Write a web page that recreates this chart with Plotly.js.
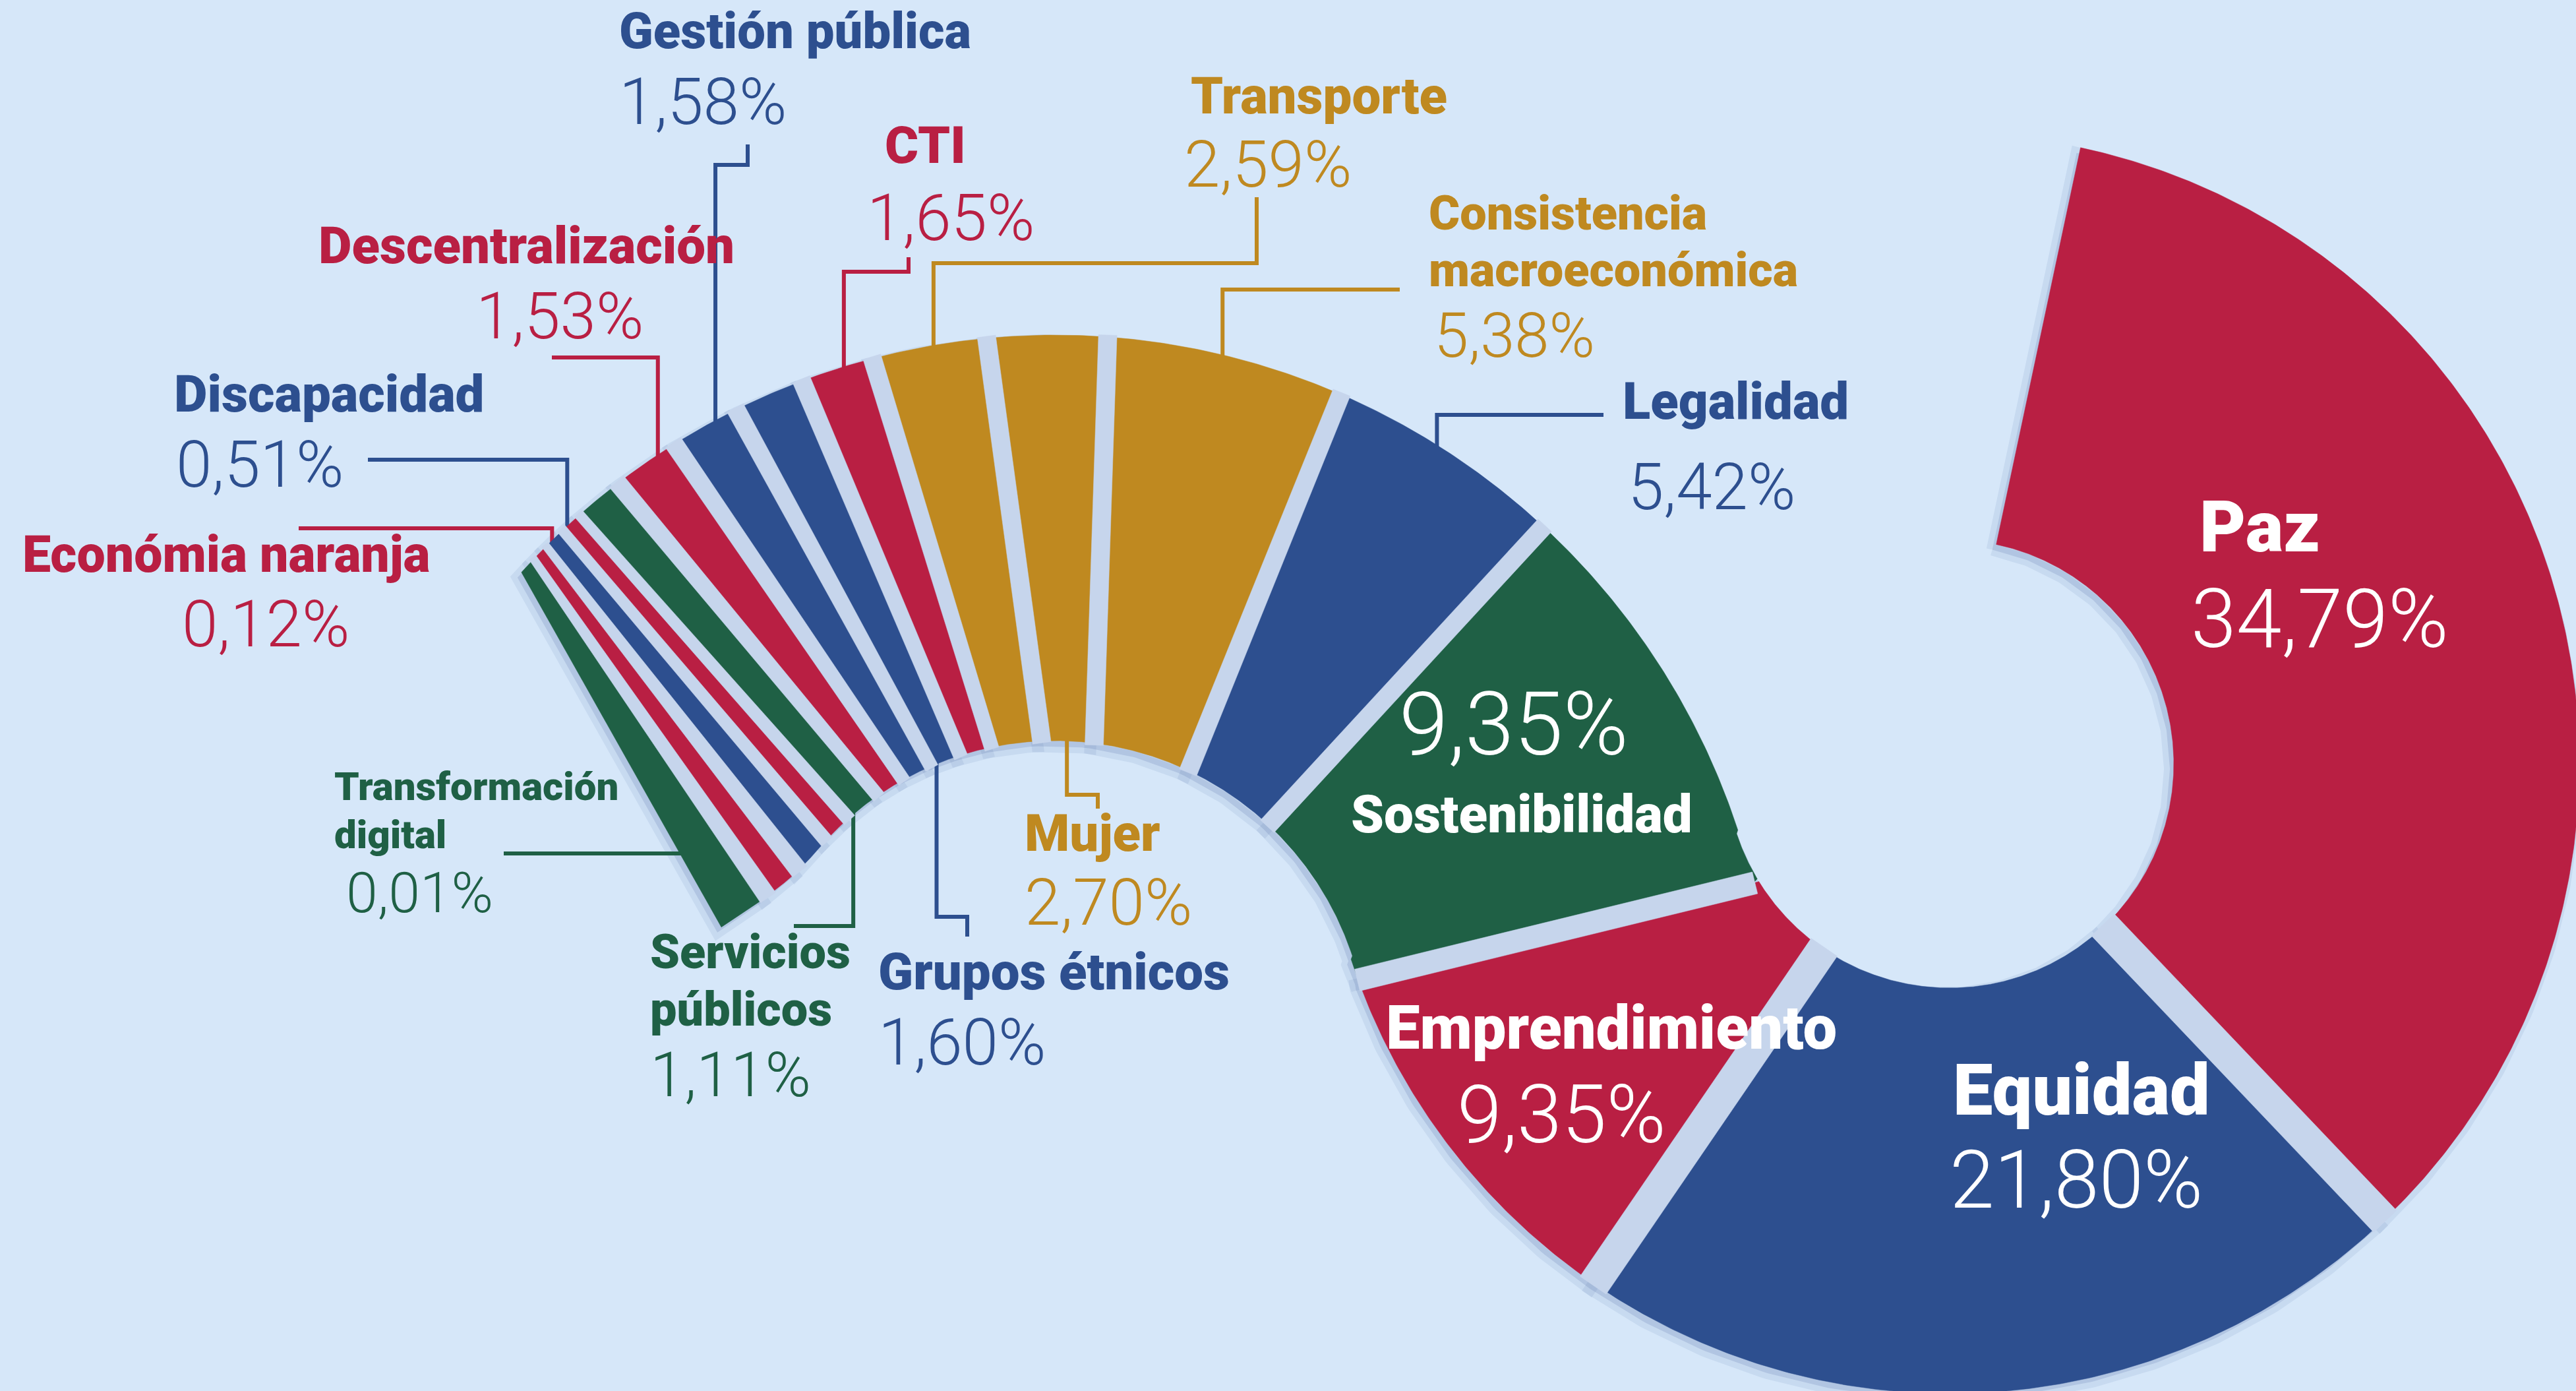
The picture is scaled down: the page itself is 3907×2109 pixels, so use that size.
<!DOCTYPE html>
<html lang="es">
<head>
<meta charset="utf-8">
<title>Distribución por pactos</title>
<script src="https://cdn.plot.ly/plotly-3.0.1.min.js"></script>
<style>
html,body{margin:0;padding:0;background:#D6E7F9;overflow:hidden;}
#chart{width:3907px;height:2109px;}
</style>
</head>
<body>
<div id="chart"></div>
<script>
// ---------------- DATA ----------------
const categories = ["Paz","Equidad","Emprendimiento","Sostenibilidad","Legalidad",
  "Consistencia macroeconómica","Mujer","Transporte","CTI","Grupos étnicos",
  "Gestión pública","Descentralización","Servicios públicos","","Discapacidad",
  "Económia naranja","Transformación digital"];
const values = [34.79,21.80,9.35,9.35,5.42,5.38,2.70,2.59,1.65,1.60,1.58,1.53,1.11,0.51,0.51,0.12,0.01];
const colourGroup = ["rojo","azul","rojo","verde","azul","oro","oro","oro","rojo","azul",
  "azul","rojo","verde","rojo","azul","rojo","verde"];

// ---------------- STYLE / LAYOUT ----------------
const BG = "#D6E7F9";
const palette = {rojo:"#B91F43", azul:"#2D4F8F", oro:"#BF8920", verde:"#1F6045"};
const GAP_COLOR = "#C6D5EC";
const W = 3907, H = 2109;
const MIN_SHARE = 0.4;          // smallest share that is still drawn visibly
const NAME_FONT = "Roboto, 'Open Sans', sans-serif";
const PCT_FONT = "Roboto, 'Open Sans', sans-serif";

// two tangent rings that form the "S" ribbon
const A = {cx:2957, cy:1158, rIn:340, rOut:955};   // big ring (Paz, Equidad ...)
const B = {cx:1600, cy:1598, rIn:475, rOut:1090};  // tail ring
const PHI0 = 12;                                    // start angle of the first slice

const deg = Math.PI/180;
function u(a){ return [Math.sin(a*deg), -Math.cos(a*deg)]; }
function angOf(x,y){ let a = Math.atan2(x,-y)/deg; return (a+360)%360; }
const phiT = angOf(B.cx-A.cx, B.cy-A.cy);   // tangent direction seen from A
const betaT = phiT - 180;                   // same point seen from B
const psiT = phiT - PHI0;                   // sweep where ribbon passes from A to B

function skew(b){ return 3*Math.min(1,Math.max(0,(45-b)/35)) - 0.246*Math.pow(Math.max(0,-38-b),2); }
function rInB(bq){ return B.rIn + 0.18*Math.pow(Math.max(0,-50-bq),2); }
function betaOf(psi){ return betaT - (psi - psiT); }
function sideP(psi){
  if (psi <= psiT){ const d=u(PHI0+psi); return [A.cx+A.rIn*d[0], A.cy+A.rIn*d[1]]; }
  const d=u(betaOf(psi)); return [B.cx+B.rOut*d[0], B.cy+B.rOut*d[1]];
}
function sideQ(psi){
  if (psi <= psiT){ const d=u(PHI0+psi); return [A.cx+A.rOut*d[0], A.cy+A.rOut*d[1]]; }
  const b=betaOf(psi), bq=b+skew(b), r=rInB(bq), d=u(bq);
  return [B.cx+r*d[0], B.cy+r*d[1]];
}
function makeCut(psi){
  if (psi >= psiT-8 && psi < psiT){
    const b = betaT + (psiT-psi), d = u(b);
    const pP=[B.cx+B.rOut*d[0], B.cy+B.rOut*d[1]];
    const pQ=[B.cx+B.rIn*d[0], B.cy+B.rIn*d[1]];
    return {pP, pQ, psiP: angOf(pP[0]-A.cx,pP[1]-A.cy)-PHI0, psiQ: angOf(pQ[0]-A.cx,pQ[1]-A.cy)-PHI0, zone:"T"};
  }
  return {pP:sideP(psi), pQ:sideQ(psi), psiP:psi, psiQ:psi, zone: psi<psiT ? "A" : "B"};
}
function sampleBetween(fn,a,b){
  const pts=[]; const n=Math.max(1,Math.ceil(Math.abs(b-a)/0.4));
  for(let j=1;j<n;j++) pts.push(fn(a+(b-a)*j/n));
  return pts;
}

// ---- scale: share -> sweep angle ----
const shown = values.map(v => Math.max(v, MIN_SHARE));
const total = shown.reduce((s,v)=>s+v,0);
const degPerUnit = 360/total;
const psiB = [0];
shown.forEach((v,i)=>psiB.push(psiB[i]+v*degPerUnit));
const cuts = psiB.map(makeCut);

// ---- slice polygons ----
const slicePolys = values.map((v,i)=>{
  const c0=cuts[i], c1=cuts[i+1];
  return [c0.pP, ...sampleBetween(sideP,c0.psiP,c1.psiP), c1.pP,
          c1.pQ, ...sampleBetween(sideQ,c1.psiQ,c0.psiQ), c0.pQ, c0.pP];
});

// ---- separators (gaps) ----
function dist(a,b){ return Math.hypot(a[0]-b[0],a[1]-b[1]); }
const sepPolys=[];
for(let k=1;k<cuts.length-1;k++){
  const c=cuts[k], base = c.zone==="A"?48:(c.zone==="T"?34:28);
  const gP=Math.min(base,0.45*Math.min(dist(c.pP,cuts[k-1].pP),dist(c.pP,cuts[k+1].pP)));
  const gQ=Math.min(base,0.45*Math.min(dist(c.pQ,cuts[k-1].pQ),dist(c.pQ,cuts[k+1].pQ)));
  const L=dist(c.pP,c.pQ), d=[(c.pQ[0]-c.pP[0])/L,(c.pQ[1]-c.pP[1])/L], n=[-d[1],d[0]], e=3;
  const a=[c.pP[0]-e*d[0], c.pP[1]-e*d[1]], b=[c.pQ[0]+e*d[0], c.pQ[1]+e*d[1]];
  sepPolys.push([[a[0]+gP/2*n[0],a[1]+gP/2*n[1]],[b[0]+gQ/2*n[0],b[1]+gQ/2*n[1]],
                 [b[0]-gQ/2*n[0],b[1]-gQ/2*n[1]],[a[0]-gP/2*n[0],a[1]-gP/2*n[1]],
                 [a[0]+gP/2*n[0],a[1]+gP/2*n[1]]]);
}

// ---- label layout (text baselines, px) ----
const labelLayout = [
  {i:0, inside:true, nx:3334, ny:[836], ns:108, px:3321, py:981, ps:124},
  {i:1, inside:true, nx:2960, ny:[1690], ns:108, px:2955, py:1831, ps:122},
  {i:2, inside:true, nx:2100, ny:[1590], ns:92, px:2368, py:1732, ps:122, pxa:"center"},
  {i:3, inside:true, nx:2308, ny:[1262], ns:80, px:2296, py:1144, ps:134, xa:"center", pxa:"center"},
  {i:4, nx:2459, ny:[635], ns:78, px:2467, py:772, ps:98},
  {i:5, nx:2165, ny:[348,434], ns:72, px:2173, py:541, ps:94},
  {i:6, nx:1552, ny:[1290], ns:78, px:1552, py:1402, ps:98},
  {i:7, nx:1804, ny:[172], ns:78, px:1794, py:283, ps:98},
  {i:8, nx:1340, ny:[247], ns:78, px:1313, py:364, ps:98},
  {i:9, nx:1330, ny:[1500], ns:78, px:1330, py:1614, ps:98},
  {i:10, nx:937, ny:[73], ns:76, px:937, py:188, ps:98},
  {i:11, nx:481, ny:[399], ns:78, px:720, py:513, ps:98},
  {i:12, nx:984, ny:[1468,1555], ns:72, px:984, py:1662, ps:94},
  {i:14, nx:262, ny:[624], ns:78, px:265, py:738, ps:98},
  {i:15, nx:32, ny:[867], ns:77, px:274, py:980, ps:98},
  {i:16, nx:505, ny:[1213,1286], ns:60, px:523, py:1383, ps:86}
];
// leader lines: label-side points are layout, the bar end is computed from the slice
const leaderLayout = [
  {i:10, pts:[[1134,219],[1134,250]], end:"P"},
  {i:8,  pts:[[1378,390],[1378,412]], end:"P"},
  {i:7,  pts:[[1906,299],[1906,399]], end:"P"},
  {i:5,  pts:[[2123,439]], end:"P"},
  {i:4,  pts:[[2432,629]], end:"P"},
  {i:11, pts:[[837,542]], end:"P"},
  {i:14, pts:[[558,697]], end:"P"},
  {i:15, pts:[[453,801]], end:"P"},
  {i:16, pts:[[764,1294]], end:"S"},
  {i:12, pts:[[1204,1404]], end:"Q"},
  {i:9,  pts:[[1467,1420],[1467,1390]], end:"Q"},
  {i:6,  pts:[[1665,1226],[1665,1205]], end:"Q"}
];
function attach(i,mode){
  const pm=(psiB[i]+psiB[i+1])/2, p=sideP(pm), q=sideQ(pm);
  const t = mode==="P"?0.05:(mode==="Q"?0.95:0.7);
  return [p[0]+(q[0]-p[0])*t, p[1]+(q[1]-p[1])*t];
}

// ---------------- TRACES ----------------
const traces=[];
// soft shadows
slicePolys.forEach(poly=>{
  traces.push({type:"scatter", mode:"lines", x:poly.map(p=>p[0]-6), y:poly.map(p=>p[1]+8),
    fill:"toself", fillcolor:"rgba(60,90,150,0.16)", line:{color:"rgba(60,90,150,0.09)", width:18},
    hoverinfo:"skip", showlegend:false});
});
// leader lines
leaderLayout.forEach(Ld=>{
  const a=attach(Ld.i,Ld.end), last=Ld.pts[Ld.pts.length-1];
  const path=[...Ld.pts,[a[0],last[1]],a];
  traces.push({type:"scatter", mode:"lines", x:path.map(p=>p[0]), y:path.map(p=>p[1]),
    line:{color:palette[colourGroup[Ld.i]], width:6}, hoverinfo:"skip", showlegend:false});
});
// slices
slicePolys.forEach((poly,i)=>{
  traces.push({type:"scatter", mode:"lines", x:poly.map(p=>p[0]), y:poly.map(p=>p[1]),
    fill:"toself", fillcolor:palette[colourGroup[i]], line:{color:palette[colourGroup[i]], width:0.5},
    name:categories[i], text:(categories[i]||"")+": "+values[i].toFixed(2).replace(".",",")+"%",
    hoveron:"fills", hoverinfo:"text", showlegend:false});
});
// gaps between slices
sepPolys.forEach(poly=>{
  traces.push({type:"scatter", mode:"lines", x:poly.map(p=>p[0]), y:poly.map(p=>p[1]),
    fill:"toself", fillcolor:GAP_COLOR, line:{color:GAP_COLOR, width:0.5}, hoverinfo:"skip", showlegend:false});
});

// ---------------- TEXT ----------------
function fmtPct(v){ return v.toFixed(2).replace(".",",")+"%"; }
function splitFirst(s){ const k=s.indexOf(" "); return [s.slice(0,k), s.slice(k+1)]; }
const annotations=[];
labelLayout.forEach(Lb=>{
  const col = Lb.inside ? "#FFFFFF" : palette[colourGroup[Lb.i]];
  const lines = Lb.ny.length>1 ? splitFirst(categories[Lb.i]) : [categories[Lb.i]];
  lines.forEach((t,k)=>annotations.push({xref:"x", yref:"y", x:Lb.nx, y:Lb.ny[k]-0.342*Lb.ns, text:t,
    showarrow:false, xanchor:Lb.xa||"left", yanchor:"middle",
    font:{family:NAME_FONT, size:Lb.ns, color:col, weight:900}}));
  annotations.push({xref:"x", yref:"y", x:Lb.px, y:Lb.py-0.342*Lb.ps, text:fmtPct(values[Lb.i]),
    showarrow:false, xanchor:Lb.pxa||"left", yanchor:"middle",
    font:{family:PCT_FONT, size:Lb.ps, color:col, weight:300}});
});

const layout={
  width:W, height:H, margin:{l:0,r:0,t:0,b:0,pad:0},
  paper_bgcolor:BG, plot_bgcolor:BG, showlegend:false,
  xaxis:{range:[0,W], visible:false, fixedrange:true},
  yaxis:{range:[H,0], visible:false, fixedrange:true},
  annotations, hovermode:"closest"
};
Plotly.newPlot("chart", traces, layout, {displayModeBar:false});
</script>
</body>
</html>
